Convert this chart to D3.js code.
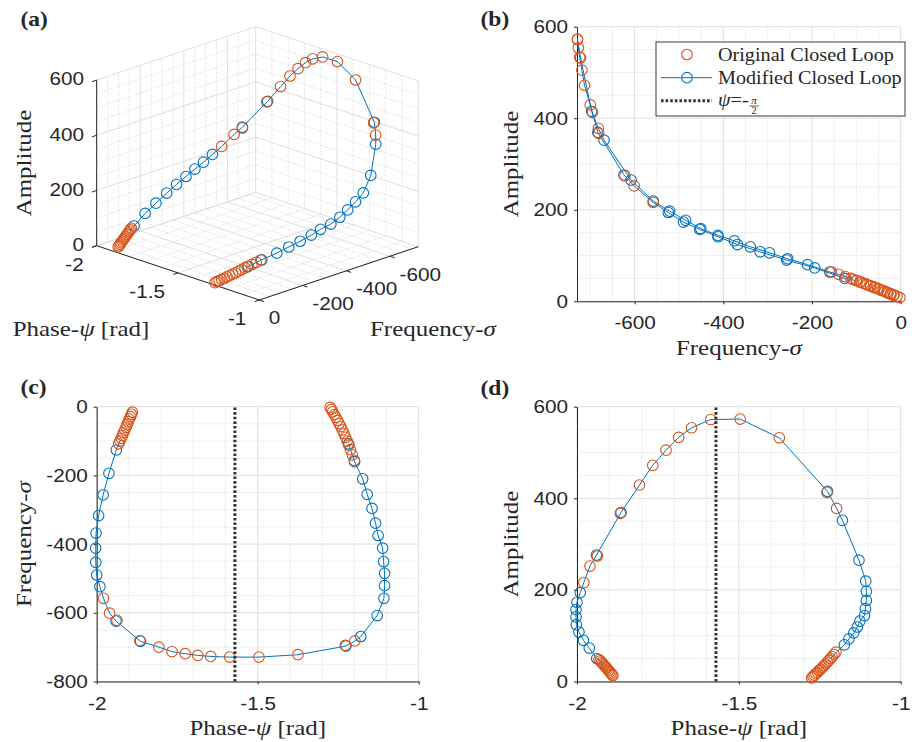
<!DOCTYPE html>
<html>
<head>
<meta charset="utf-8">
<script src="https://cdn.jsdelivr.net/npm/d3@7"></script>
<style>
  body { margin: 0; background: #fff; }
  svg { display: block; }
</style>
</head>
<body>
<svg id="fig" width="916" height="742"></svg>
<script>
// ---- data: phase psi [rad], frequency sigma, amplitude ----
// original closed loop (markers only): lower-left cluster, upper arc, lower-right cluster
const origPsi = [
  -1.889, -1.892, -1.895, -1.899, -1.902, -1.906, -1.909, -1.913, -1.917, -1.920, -1.924, -1.928, -1.932,
  -1.979, -1.960, -1.937, -1.866, -1.807, -1.766, -1.725, -1.686, -1.646, -1.587, -1.496, -1.375, -1.228, -1.198,
  -1.200, -1.206, -1.212, -1.217, -1.222, -1.227, -1.232, -1.237, -1.242, -1.247, -1.252, -1.257, -1.262, -1.267, -1.271, -1.275
];
const origSigma = [
  -16, -22, -29, -36, -44, -52, -60, -68, -76, -84, -92, -100, -108,
  -558, -601, -622, -681, -700, -713, -719, -724, -727, -729, -729, -722, -695, -682,
  -156, -140, -125, -112, -100, -89, -78, -68, -58, -49, -40, -31, -23, -15, -8, -2
];
const origAmp = [
  13, 15, 18, 21, 24, 27, 30, 33, 36, 39, 42, 45, 48,
  216, 252, 274, 367, 429, 472, 505, 533, 554, 572, 573, 532, 413, 378,
  64, 59, 54, 50, 46, 42, 38, 34, 31, 27, 24, 20, 17, 14, 11, 8
];

// modified closed loop (line + markers), in loop order
const modPsi = [
  -1.928, -1.939, -1.962, -1.980, -1.994, -2.002, -2.003, -2.003, -2.000, -1.990, -1.979,
  -1.960, -1.940, -1.864, -1.807, -1.766, -1.725, -1.686, -1.646, -1.587, -1.496, -1.375, -1.226, -1.198,
  -1.180, -1.129, -1.108, -1.106, -1.106, -1.109, -1.112, -1.126, -1.134, -1.145, -1.160, -1.174, -1.199, -1.218
];
const modSigma = [
  -100, -126, -194, -257, -317, -368, -412, -453, -490, -524, -558,
  -601, -624, -683, -700, -713, -719, -724, -727, -729, -729, -722, -697, -682,
  -669, -608, -558, -521, -485, -451, -412, -375, -339, -296, -255, -210, -160, -108
];
const modAmp = [
  45, 50, 73, 90, 108, 124, 141, 157, 173, 194, 216,
  252, 276, 369, 429, 472, 505, 533, 554, 572, 573, 532, 415, 378,
  352, 265, 219, 197, 177, 159, 144, 132, 119, 106, 93, 80, 64, 49
];

const psiLine = -Math.PI / 2;

// ticks
const psiTicks = [-2, -1.5, -1];
const sigmaTicks = [-600, -400, -200, 0];
const ampTicks = [0, 200, 400, 600];
const freqTicks = [-800, -600, -400, -200, 0];
const psiMinor = d3.range(0, 11).map(i => -2 + i / 10);
const sigmaMinor = d3.range(0, 15).map(i => -i * 50);
const ampMinor = d3.range(0, 13).map(i => i * 50);
const freqMinor = d3.range(0, 17).map(i => -i * 50);

const orig = origPsi.map((p, i) => ({ psi: p, sigma: origSigma[i], amp: origAmp[i] }));
const mod = modPsi.map((p, i) => ({ psi: p, sigma: modSigma[i], amp: modAmp[i] }));

// ---- style ----
const ORANGE = "#D95319", BLUE = "#0072BD", AXIS = "#262626";
const MAJOR = "#dedede", MINOR = "#cdcdcd";
const SANS = "'Liberation Sans', Arial, sans-serif";
const SERIF = "'Liberation Serif', 'Times New Roman', serif";
const TICK_FS = 18.5, TITLE_FS = 21.5, SX = 1.12, SX_T = 1.16, R = 5.3, MW = 1.1;

const svg = d3.select("#fig");
svg.append("rect").attr("width", 916).attr("height", 742).attr("fill", "#fff");

const isMajor = (v, arr) => arr.some(m => Math.abs(m - v) < 1e-9);

// text in the picture is a little wider than its height suggests
function stretch(sel, rot, sx = SX) {
  sel.each(function () {
    const t = d3.select(this);
    const x = +t.attr("x") || 0, y = +t.attr("y") || 0;
    t.attr("x", null).attr("y", null)
      .attr("transform", `translate(${x},${y})${rot ? " rotate(" + rot + ")" : ""} scale(${sx},1)`);
  });
}

function richText(g, x, y, parts, opts = {}) {
  const t = g.append("text")
    .attr("x", x).attr("y", y)
    .attr("text-anchor", opts.anchor || "middle")
    .attr("font-family", SERIF)
    .attr("font-size", opts.size || TITLE_FS)
    .attr("font-weight", opts.weight || "normal")
    .attr("fill", AXIS);
  parts.forEach(([s, it]) => t.append("tspan").attr("font-style", it ? "italic" : "normal").text(s));
  stretch(t, opts.rot, opts.sx || SX_T);
  return t;
}

const psiTitle = [["Phase-", false], ["ψ", true], [" [rad]", false]];
const freqTitle = [["Frequency-", false], ["σ", true]];
const ampTitle = [["Amplitude", false]];

// blue markers that sit right under an orange one are hidden by it in the figure
function visibleMod(px) {
  const op = orig.map(px);
  return mod.filter(d => {
    const [x, y] = px(d);
    return !op.some(([a, b]) => Math.hypot(a - x, b - y) < 0.6);
  });
}

// ---- 2D panels ----
function panel2d(o) {
  const g = svg.append("g");
  const x = d3.scaleLinear(o.xDomain, o.xRange);
  const y = d3.scaleLinear(o.yDomain, o.yRange);
  const [y0, y1] = o.yRange, [x0, x1] = o.xRange;

  const grid = g.append("g");
  grid.selectAll(".vmin").data(o.xMinor.filter(v => !isMajor(v, o.xTicks))).join("line")
    .attr("x1", d => x(d)).attr("x2", d => x(d)).attr("y1", y0).attr("y2", y1)
    .attr("stroke", MINOR).attr("stroke-width", 0.8).attr("stroke-dasharray", "1,1.6");
  grid.selectAll(".hmin").data(o.yMinor.filter(v => !isMajor(v, o.yTicks))).join("line")
    .attr("x1", x0).attr("x2", x1).attr("y1", d => y(d)).attr("y2", d => y(d))
    .attr("stroke", MINOR).attr("stroke-width", 0.8).attr("stroke-dasharray", "1,1.6");
  grid.selectAll(".vmaj").data(o.xTicks).join("line")
    .attr("x1", d => x(d)).attr("x2", d => x(d)).attr("y1", y0).attr("y2", y1)
    .attr("stroke", MAJOR).attr("stroke-width", 1);
  grid.selectAll(".hmaj").data(o.yTicks).join("line")
    .attr("x1", x0).attr("x2", x1).attr("y1", d => y(d)).attr("y2", d => y(d))
    .attr("stroke", MAJOR).attr("stroke-width", 1);

  const xa = g.append("g").attr("transform", `translate(0,${y0})`)
    .call(d3.axisBottom(x).tickValues(o.xTicks).tickSize(3).tickSizeOuter(0).tickPadding(12).tickFormat(d => String(d)));
  const ya = g.append("g").attr("transform", `translate(${x0},0)`)
    .call(d3.axisLeft(y).tickValues(o.yTicks).tickSize(3).tickSizeOuter(0).tickPadding(6).tickFormat(d => String(d)));
  [xa, ya].forEach(a => {
    a.selectAll("path,line").attr("stroke", AXIS).attr("stroke-width", 1);
    a.selectAll("text").attr("fill", AXIS).attr("font-family", SANS).attr("font-size", TICK_FS);
    stretch(a.selectAll("text"));
  });

  const px = d => [x(d[o.xKey]), y(d[o.yKey])];
  const line = d3.line().x(d => px(d)[0]).y(d => px(d)[1]);
  const data = g.append("g");
  data.append("path").datum(mod).attr("d", line)
    .attr("fill", "none").attr("stroke", BLUE).attr("stroke-width", 1);
  data.selectAll(".mb").data(visibleMod(px)).join("circle")
    .attr("cx", d => px(d)[0]).attr("cy", d => px(d)[1]).attr("r", R)
    .attr("fill", "none").attr("stroke", BLUE).attr("stroke-width", MW);
  data.selectAll(".ob").data(orig).join("circle")
    .attr("cx", d => px(d)[0]).attr("cy", d => px(d)[1]).attr("r", R)
    .attr("fill", "none").attr("stroke", ORANGE).attr("stroke-width", MW);

  if (o.vline) {
    g.append("line").attr("x1", x(psiLine)).attr("x2", x(psiLine)).attr("y1", y0).attr("y2", y1)
      .attr("stroke", "#333").attr("stroke-width", 3).attr("stroke-dasharray", "2.6,2");
  }

  richText(g, (x0 + x1) / 2, o.xTitleY, o.xTitle);
  richText(g, o.yTitleX, (y0 + y1) / 2, o.yTitle, { rot: -90 });
  return g;
}

// (b) frequency vs amplitude
panel2d({
  xKey: "sigma", yKey: "amp",
  xDomain: [-730, 0], xRange: [577, 900.7],
  yDomain: [0, 600], yRange: [301.3, 26.7],
  xTicks: sigmaTicks, yTicks: ampTicks, xMinor: sigmaMinor, yMinor: ampMinor,
  xTitle: freqTitle, yTitle: ampTitle, xTitleY: 354.5, yTitleX: 517.5
});

// (c) phase vs frequency
panel2d({
  xKey: "psi", yKey: "sigma",
  xDomain: [-2, -1], xRange: [96.7, 418.7],
  yDomain: [-800, 0], yRange: [681.5, 406.7],
  xTicks: psiTicks, yTicks: freqTicks, xMinor: psiMinor, yMinor: freqMinor,
  xTitle: psiTitle, yTitle: freqTitle, xTitleY: 734.5, yTitleX: 31, vline: true
});

// (d) phase vs amplitude
panel2d({
  xKey: "psi", yKey: "amp",
  xDomain: [-2, -1], xRange: [577, 900.7],
  yDomain: [0, 600], yRange: [681.5, 406.7],
  xTicks: psiTicks, yTicks: ampTicks, xMinor: psiMinor, yMinor: ampMinor,
  xTitle: psiTitle, yTitle: ampTitle, xTitleY: 734.5, yTitleX: 517.5, vline: true
});

// legend in (b)
const lg = svg.append("g");
lg.append("rect").attr("x", 656).attr("y", 42).attr("width", 249).attr("height", 74)
  .attr("fill", "#fff").attr("stroke", AXIS).attr("stroke-width", 0.9);
lg.append("circle").attr("cx", 687).attr("cy", 54.5).attr("r", R)
  .attr("fill", "none").attr("stroke", ORANGE).attr("stroke-width", MW);
lg.append("line").attr("x1", 661).attr("x2", 712).attr("y1", 77.7).attr("y2", 77.7)
  .attr("stroke", BLUE).attr("stroke-width", 1);
lg.append("circle").attr("cx", 687).attr("cy", 77.7).attr("r", R)
  .attr("fill", "none").attr("stroke", BLUE).attr("stroke-width", MW);
lg.append("line").attr("x1", 661).attr("x2", 712).attr("y1", 100.7).attr("y2", 100.7)
  .attr("stroke", "#333").attr("stroke-width", 3).attr("stroke-dasharray", "2.6,2");
richText(lg, 718, 60.5, [["Original Closed Loop", false]], { anchor: "start", size: 18, sx: SX });
richText(lg, 718, 83.5, [["Modified Closed Loop", false]], { anchor: "start", size: 18, sx: SX });
const psiLbl = richText(lg, 718, 106, [["ψ", true], ["=-", false]], { anchor: "start", size: 18, sx: SX });
const fx = 718 + psiLbl.node().getComputedTextLength() * SX + 5.5;
lg.append("text").attr("x", fx).attr("y", 103.5).attr("text-anchor", "middle")
  .attr("font-family", SERIF).attr("font-style", "italic").attr("font-size", 11).attr("fill", AXIS).text("π");
lg.append("line").attr("x1", fx - 4.5).attr("x2", fx + 4.5).attr("y1", 106).attr("y2", 106)
  .attr("stroke", AXIS).attr("stroke-width", 0.8);
lg.append("text").attr("x", fx).attr("y", 114).attr("text-anchor", "middle")
  .attr("font-family", SERIF).attr("font-size", 10.5).attr("fill", AXIS).text("2");

// ---- (a) 3D view ----
const P3 = { ox: 96.7, oy: 245.7, psi: [162.6, 54.3], sig: [159, -53.3], amp: [0, -165.7] };
const fPsi = d3.scaleLinear([-2, -1], [0, 1]);
const fSig = d3.scaleLinear([0, -730], [0, 1]);
const fAmp = d3.scaleLinear([0, 600], [0, 1]);
function proj(p, s, a) {
  const u = fPsi(p), v = fSig(s), w = fAmp(a);
  return [P3.ox + u * P3.psi[0] + v * P3.sig[0] + w * P3.amp[0],
          P3.oy + u * P3.psi[1] + v * P3.sig[1] + w * P3.amp[1]];
}
const ga = svg.append("g");
const segs = [];
// floor
psiMinor.forEach(p => segs.push({ a: [p, 0, 0], b: [p, -730, 0], major: isMajor(p, psiTicks) }));
sigmaMinor.forEach(s => segs.push({ a: [-2, s, 0], b: [-1, s, 0], major: isMajor(s, sigmaTicks) }));
// wall psi = -2
sigmaMinor.forEach(s => segs.push({ a: [-2, s, 0], b: [-2, s, 600], major: isMajor(s, sigmaTicks) }));
ampMinor.forEach(m => segs.push({ a: [-2, 0, m], b: [-2, -730, m], major: isMajor(m, ampTicks) }));
// wall sigma = min
psiMinor.forEach(p => segs.push({ a: [p, -730, 0], b: [p, -730, 600], major: isMajor(p, psiTicks) }));
ampMinor.forEach(m => segs.push({ a: [-2, -730, m], b: [-1, -730, m], major: isMajor(m, ampTicks) }));

const segSorted = segs.filter(d => !d.major).concat(segs.filter(d => d.major));
ga.selectAll(".g3").data(segSorted).join("line")
  .attr("x1", d => proj(...d.a)[0]).attr("y1", d => proj(...d.a)[1])
  .attr("x2", d => proj(...d.b)[0]).attr("y2", d => proj(...d.b)[1])
  .attr("stroke", d => d.major ? MAJOR : MINOR)
  .attr("stroke-width", d => d.major ? 1 : 0.8)
  .attr("stroke-dasharray", d => d.major ? null : "1,1.6");

// axis lines
const axes3 = [
  [[-2, 0, 0], [-1, 0, 0]],
  [[-1, 0, 0], [-1, -730, 0]],
  [[-2, 0, 0], [-2, 0, 600]]
];
ga.selectAll(".ax3").data(axes3).join("line")
  .attr("x1", d => proj(...d[0])[0]).attr("y1", d => proj(...d[0])[1])
  .attr("x2", d => proj(...d[1])[0]).attr("y2", d => proj(...d[1])[1])
  .attr("stroke", AXIS).attr("stroke-width", 1);

// ticks + labels
const tickOut = [-4.7, 1.6], tickOut2 = [4.7, 1.6];
const tk = ga.append("g");
psiTicks.forEach(p => {
  const [tx, ty] = proj(p, 0, 0);
  tk.append("line").attr("x1", tx).attr("y1", ty).attr("x2", tx + tickOut[0]).attr("y2", ty + tickOut[1])
    .attr("stroke", AXIS);
  tk.append("text").attr("x", tx - 13).attr("y", ty + 19).attr("dy", "0.35em").attr("text-anchor", "end")
    .attr("font-family", SANS).attr("font-size", TICK_FS).attr("fill", AXIS).text(String(p));
});
sigmaTicks.forEach(s => {
  const [tx, ty] = proj(-1, s, 0);
  tk.append("line").attr("x1", tx).attr("y1", ty).attr("x2", tx + tickOut2[0]).attr("y2", ty + tickOut2[1])
    .attr("stroke", AXIS);
  tk.append("text").attr("x", tx + 9.5).attr("y", ty + 18).attr("dy", "0.35em").attr("text-anchor", "start")
    .attr("font-family", SANS).attr("font-size", TICK_FS).attr("fill", AXIS).text(String(s));
});
ampTicks.forEach(m => {
  const [tx, ty] = proj(-2, 0, m);
  tk.append("line").attr("x1", tx).attr("y1", ty).attr("x2", tx + tickOut[0]).attr("y2", ty + tickOut[1])
    .attr("stroke", AXIS);
  tk.append("text").attr("x", 84).attr("y", ty - 1).attr("dy", "0.35em").attr("text-anchor", "end")
    .attr("font-family", SANS).attr("font-size", TICK_FS).attr("fill", AXIS).text(String(m));
});
stretch(tk.selectAll("text"));

// data
const p3 = d => proj(d.psi, d.sigma, d.amp);
const line3 = d3.line().x(d => p3(d)[0]).y(d => p3(d)[1]);
ga.append("path").datum(mod).attr("d", line3).attr("fill", "none").attr("stroke", BLUE).attr("stroke-width", 1);
ga.selectAll(".m3").data(visibleMod(p3)).join("circle")
  .attr("cx", d => p3(d)[0]).attr("cy", d => p3(d)[1])
  .attr("r", R).attr("fill", "none").attr("stroke", BLUE).attr("stroke-width", MW);
ga.selectAll(".o3").data(orig).join("circle")
  .attr("cx", d => p3(d)[0]).attr("cy", d => p3(d)[1])
  .attr("r", R).attr("fill", "none").attr("stroke", ORANGE).attr("stroke-width", MW);

richText(ga, 31, 163, ampTitle, { rot: -90 });
richText(ga, 81, 335.5, psiTitle);
richText(ga, 370, 335.5, freqTitle, { anchor: "start" });

// panel letters
[["(a)", 20.5, 25.5], ["(b)", 480.5, 25.5], ["(c)", 20.5, 394], ["(d)", 480.5, 395]].forEach(([s, x, y]) => {
  richText(svg, x, y, [[s, false]], { anchor: "start", size: 21, weight: "bold", sx: SX });
});
</script>
</body>
</html>
